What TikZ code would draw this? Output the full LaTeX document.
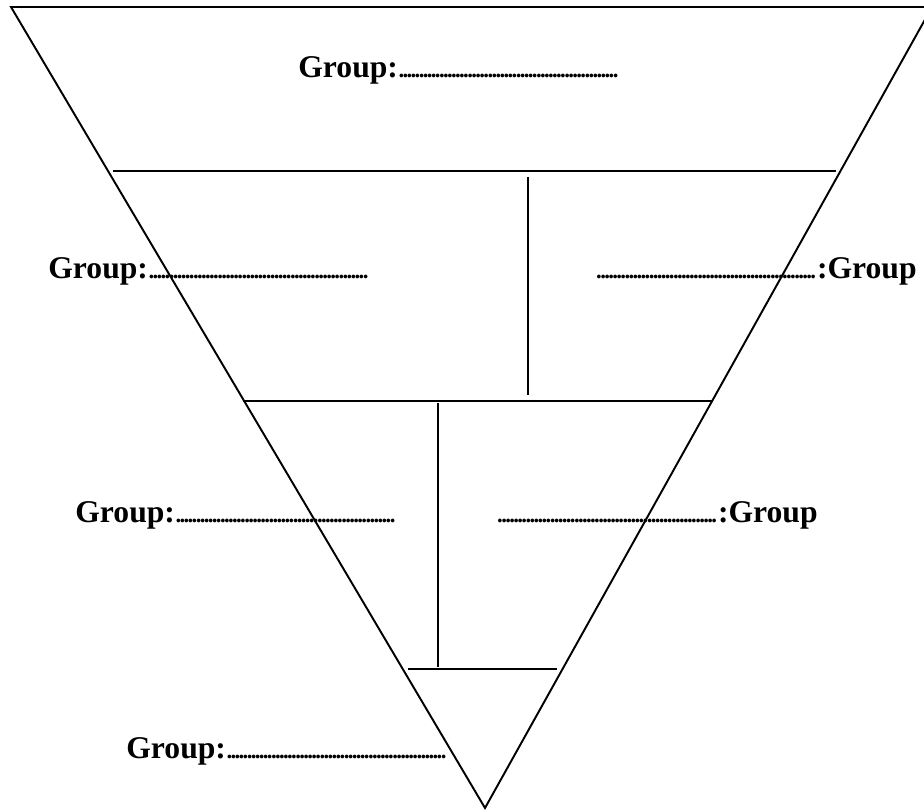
\documentclass[tikz,border=0pt]{standalone}
\usepackage{fontspec}
\setmainfont{Liberation Serif}

% row of dots to write a group name on
\newcommand{\gapdots}{{\fontsize{13}{13}\selectfont\bfseries
  \leaders\hbox to 2.3pt{\hss.\hss}\hskip 4.4cm\kern0pt}}

\begin{document}
\begin{tikzpicture}[
  edge/.style={line width=1.1pt},
  part/.style={line width=1.1pt},
  grp/.style={font=\fontsize{18}{20}\selectfont\bfseries, inner sep=0pt}
]
\useasboundingbox (0,0) rectangle (18.48,16.2);

\coordinate (tl)  at (0.22, 16.06);
\coordinate (tr)  at (18.64,16.06);
\coordinate (tip) at (9.70,  0.04);

\draw[edge] (tl) -- (tr) -- (tip) -- cycle;

\draw[part] (2.26,12.78) -- (16.72,12.78);
\draw[part] (10.56,12.66) -- (10.56,8.30);
\draw[part] (4.86,8.18) -- (14.26,8.18);
\draw[part] (8.76,8.14) -- (8.76,2.86);
\draw[part] (8.16,2.82) -- (11.14,2.82);

\node[grp, anchor=base west] (gtop) at (5.96,14.64) {Group:\gapdots};
\node[grp, anchor=base west] (gl1)  at (0.96,10.62) {Group:\gapdots};
\node[grp, anchor=base east] (gr1)  at (18.34,10.62) {\gapdots:Group};
\node[grp, anchor=base west] (gl2)  at (1.50, 5.74) {Group:\gapdots};
\node[grp, anchor=base east] (gr2)  at (16.36, 5.74) {\gapdots:Group};
\node[grp, anchor=base west] (gbot) at (2.52, 1.02) {Group:\gapdots};

\end{tikzpicture}
\end{document}
